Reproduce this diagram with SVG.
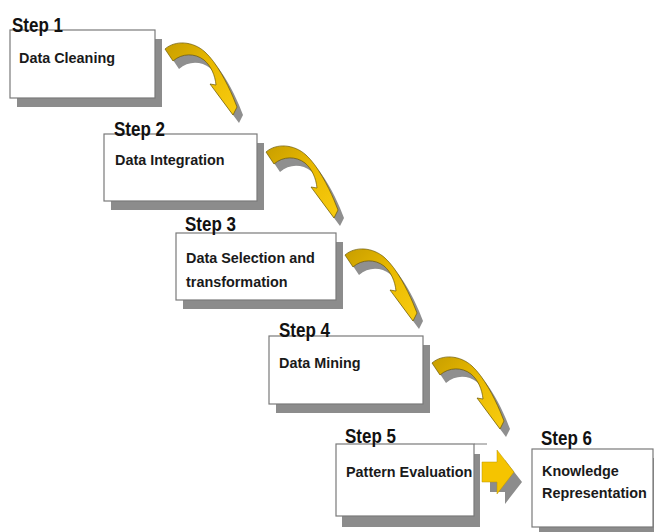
<svg xmlns="http://www.w3.org/2000/svg" xmlns:xlink="http://www.w3.org/1999/xlink" width="654" height="532" viewBox="0 0 654 532">
  <style>
    .box { fill: #ffffff; stroke: #7a7a7a; stroke-width: 1.2; }
    .shadow { fill: #8c8c8c; }
    .step { font-family: "Liberation Sans", Arial, sans-serif; font-weight: bold; font-size: 17px; fill: #111111; }
    .label { font-family: "Liberation Sans", Arial, sans-serif; font-weight: bold; font-size: 14.4px; fill: #1a1a1a; }
    .ribbon { fill: url(#gold); stroke: #6b5800; stroke-width: 0.7; stroke-linejoin: round; }
    .ribbon-shadow { fill: #8f8f8f; }
    .block { fill: #f5c400; stroke: #b89400; stroke-width: 0.5; }
  </style>
  <defs>
    <linearGradient id="gold" x1="0" y1="0" x2="1" y2="1">
      <stop offset="0" stop-color="#c79e00"/>
      <stop offset="0.45" stop-color="#e9b900"/>
      <stop offset="1" stop-color="#f8cc10"/>
    </linearGradient>
    <!-- curved ribbon arrow, origin at the upper corner of its tail -->
    <path id="curl" d="M0,0 C10,-9 28,-8 40,3 C52,14 62,34 68,48 L72,58 L68,66 L45,35 L51,36 C50,26 46,17 39,11 C30,4 17,4 8,12 Z"/>
    <!-- straight block arrow -->
    <path id="block" d="M482,462 L497,462 L497,450 L514,472 L497,494 L497,482 L482,482 Z"/>
  </defs>

  <rect width="654" height="532" fill="#ffffff"/>

  <g id="connectors">
    <g transform="translate(165 49)">
      <use xlink:href="#curl" href="#curl" class="ribbon-shadow" transform="translate(6 8)"/>
      <use xlink:href="#curl" href="#curl" class="ribbon"/>
    </g>
    <g transform="translate(266 152)">
      <use xlink:href="#curl" href="#curl" class="ribbon-shadow" transform="translate(6 8)"/>
      <use xlink:href="#curl" href="#curl" class="ribbon"/>
    </g>
    <g transform="translate(345 255)">
      <use xlink:href="#curl" href="#curl" class="ribbon-shadow" transform="translate(6 8)"/>
      <use xlink:href="#curl" href="#curl" class="ribbon"/>
    </g>
    <g transform="translate(432 363)">
      <use xlink:href="#curl" href="#curl" class="ribbon-shadow" transform="translate(6 8)"/>
      <use xlink:href="#curl" href="#curl" class="ribbon"/>
    </g>
    <use xlink:href="#block" href="#block" class="shadow" transform="translate(8 10)"/>
    <use xlink:href="#block" href="#block" class="block"/>
  </g>

  <g id="step1">
    <rect class="shadow" x="17" y="39" width="145" height="68"/>
    <rect class="box" x="10" y="30" width="145" height="68"/>
    <text class="step" transform="translate(12 32) scale(1 1.15)">Step 1</text>
    <text class="label" x="19" y="63">Data Cleaning</text>
  </g>

  <g id="step2">
    <rect class="shadow" x="111" y="143" width="153" height="67"/>
    <rect class="box" x="104" y="134" width="153" height="67"/>
    <text class="step" transform="translate(114 136) scale(1 1.15)">Step 2</text>
    <text class="label" x="115" y="165">Data Integration</text>
  </g>

  <g id="step3">
    <rect class="shadow" x="183" y="242" width="160" height="67"/>
    <rect class="box" x="176" y="233" width="160" height="67"/>
    <text class="step" transform="translate(185 231) scale(1 1.15)">Step 3</text>
    <text class="label" x="186" y="263">Data Selection and</text>
    <text class="label" x="186" y="287">transformation</text>
  </g>

  <g id="step4">
    <rect class="shadow" x="276" y="345" width="154" height="68"/>
    <rect class="box" x="269" y="336" width="154" height="68"/>
    <text class="step" transform="translate(279 337) scale(1 1.15)">Step 4</text>
    <text class="label" x="279" y="368">Data Mining</text>
  </g>

  <g id="step5">
    <rect class="shadow" x="342" y="454" width="138" height="73"/>
    <rect class="box" x="336" y="444" width="138" height="72"/>
    <line x1="474" y1="444" x2="487" y2="444" stroke="#7a7a7a" stroke-width="1"/>
    <text class="step" transform="translate(345 443) scale(1 1.15)">Step 5</text>
    <text class="label" x="346" y="477">Pattern Evaluation</text>
  </g>

  <g id="step6">
    <rect class="shadow" x="539" y="458" width="121" height="78"/>
    <rect class="box" x="532" y="449" width="121" height="78"/>
    <text class="step" transform="translate(541 445) scale(1 1.15)">Step 6</text>
    <text class="label" x="542" y="476">Knowledge</text>
    <text class="label" x="542" y="498">Representation</text>
  </g>
</svg>
